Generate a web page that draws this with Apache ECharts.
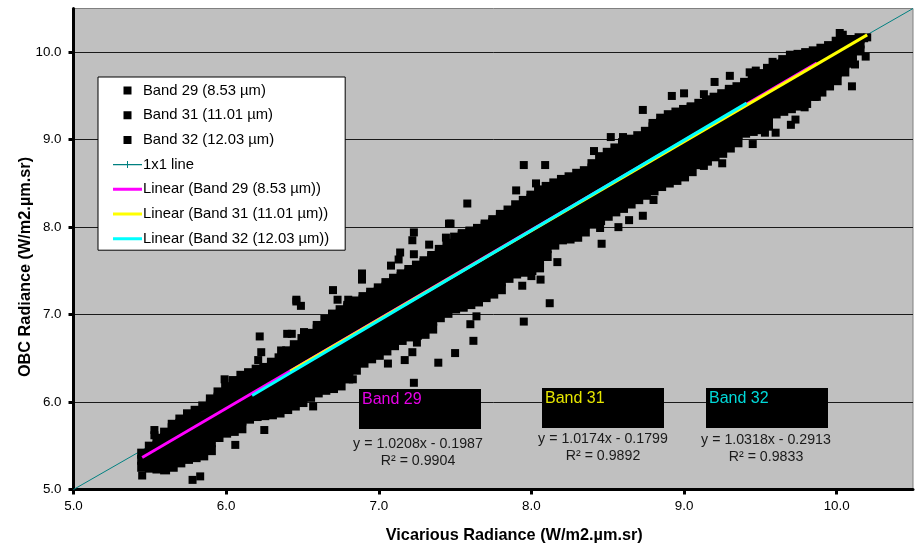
<!DOCTYPE html>
<html>
<head>
<meta charset="utf-8">
<script src="https://cdn.jsdelivr.net/npm/echarts@6/dist/echarts.min.js"></script>
<style>
	html, body { margin: 0; padding: 0; background: #fff; }
	#chart { width: 919px; height: 545px; }
</style>
</head>
<body>
<div id="chart"></div>
<script>
// tick labels
var xTicks = [5, 6, 7, 8, 9, 10];
var yTicks = [5, 6, 7, 8, 9, 10];

var band29Name = 'Band 29 (8.53 µm)';
var band31Name = 'Band 31 (11.01 µm)';
var band32Name = 'Band 32 (12.03 µm)';

// each row: vicarious radiance, then the OBC radiances read at that x
var band29Cols = [
	[5.45, 5.26,5.34,5.41],
	[5.50, 5.25,5.33,5.41,5.49],
	[5.55, 5.24,5.32,5.41,5.50,5.58],
	[5.60, 5.23,5.32,5.41,5.50,5.59,5.65],
	[5.65, 5.26,5.35,5.44,5.53,5.62,5.70,5.74],
	[5.70, 5.31,5.40,5.49,5.58,5.67,5.75,5.80],
	[5.75, 5.35,5.44,5.53,5.62,5.71,5.79,5.86],
	[5.80, 5.37,5.46,5.55,5.64,5.73,5.82,5.90],
	[5.85, 5.39,5.48,5.57,5.66,5.75,5.84,5.95],
	[5.90, 5.45,5.54,5.63,5.72,5.81,5.90,5.97,6.03],
	[5.95, 5.60,5.69,5.78,5.87,5.96,6.05,6.11],
	[6.00, 5.65,5.74,5.83,5.92,6.01,6.10,6.17],
	[6.05, 5.67,5.76,5.85,5.94,6.03,6.12,6.21,6.24],
	[6.10, 5.70,5.79,5.88,5.97,6.06,6.15,6.24,6.30],
	[6.15, 5.81,5.90,5.99,6.08,6.17,6.26,6.33],
	[6.20, 5.84,5.93,6.02,6.11,6.20,6.29,6.37],
	[6.25, 5.85,5.94,6.03,6.12,6.21,6.30,6.39],
	[6.30, 5.86,5.95,6.04,6.13,6.22,6.31,6.40,6.45],
	[6.35, 5.88,5.97,6.06,6.15,6.24,6.33,6.42,6.50],
	[6.40, 5.92,6.01,6.10,6.19,6.28,6.37,6.46,6.55,6.58],
	[6.45, 5.96,6.05,6.14,6.23,6.32,6.41,6.50,6.59,6.65],
	[6.50, 6.00,6.09,6.18,6.27,6.36,6.45,6.54,6.63,6.72],
	[6.55, 6.06,6.15,6.24,6.33,6.42,6.51,6.60,6.69,6.78],
	[6.60, 6.11,6.20,6.29,6.38,6.47,6.56,6.65,6.74,6.83,6.87],
	[6.65, 6.14,6.23,6.32,6.41,6.50,6.59,6.68,6.77,6.86,6.94],
	[6.70, 6.16,6.25,6.34,6.43,6.52,6.61,6.70,6.79,6.88,6.97,7.00],
	[6.75, 6.19,6.28,6.37,6.46,6.55,6.64,6.73,6.82,6.91,7.00,7.05],
	[6.80, 6.27,6.36,6.45,6.54,6.63,6.72,6.81,6.90,6.99,7.08,7.10],
	[6.85, 6.37,6.46,6.55,6.64,6.73,6.82,6.91,7.00,7.09,7.15],
	[6.90, 6.45,6.54,6.63,6.72,6.81,6.90,6.99,7.08,7.17,7.20],
	[6.95, 6.50,6.59,6.68,6.77,6.86,6.95,7.04,7.13,7.22,7.25]
];
var band32Cols = [
	[7.00, 6.54,6.63,6.72,6.81,6.90,6.99,7.08,7.17,7.26,7.30],
	[7.05, 6.59,6.68,6.77,6.86,6.95,7.04,7.13,7.22,7.31,7.36],
	[7.10, 6.65,6.74,6.83,6.92,7.01,7.10,7.19,7.28,7.37,7.41],
	[7.15, 6.71,6.80,6.89,6.98,7.07,7.16,7.25,7.34,7.43,7.46],
	[7.20, 6.75,6.84,6.93,7.02,7.11,7.20,7.29,7.38,7.47,7.51],
	[7.25, 6.77,6.86,6.95,7.04,7.13,7.22,7.31,7.40,7.49,7.56],
	[7.30, 6.78,6.87,6.96,7.05,7.14,7.23,7.32,7.41,7.50,7.59,7.61],
	[7.35, 6.84,6.93,7.02,7.11,7.20,7.29,7.38,7.47,7.56,7.65,7.67],
	[7.40, 6.97,7.06,7.15,7.24,7.33,7.42,7.51,7.60,7.69,7.74],
	[7.45, 7.02,7.11,7.20,7.29,7.38,7.47,7.56,7.65,7.74,7.81],
	[7.50, 7.07,7.16,7.25,7.34,7.43,7.52,7.61,7.70,7.79,7.88],
	[7.55, 7.09,7.18,7.27,7.36,7.45,7.54,7.63,7.72,7.81,7.90,7.92],
	[7.60, 7.12,7.21,7.30,7.39,7.48,7.57,7.66,7.75,7.84,7.93,7.95],
	[7.65, 7.15,7.24,7.33,7.42,7.51,7.60,7.69,7.78,7.87,7.96,7.98],
	[7.70, 7.20,7.29,7.38,7.47,7.56,7.65,7.74,7.83,7.92,8.01,8.03],
	[7.75, 7.24,7.33,7.42,7.51,7.60,7.69,7.78,7.87,7.96,8.05,8.08],
	[7.80, 7.29,7.38,7.47,7.56,7.65,7.74,7.83,7.92,8.01,8.10,8.14],
	[7.85, 7.42,7.51,7.60,7.69,7.78,7.87,7.96,8.05,8.14,8.19],
	[7.90, 7.47,7.56,7.65,7.74,7.83,7.92,8.01,8.10,8.19,8.25],
	[7.95, 7.49,7.58,7.67,7.76,7.85,7.94,8.03,8.12,8.21,8.30],
	[8.00, 7.51,7.60,7.69,7.78,7.87,7.96,8.05,8.14,8.23,8.32,8.36],
	[8.05, 7.54,7.63,7.72,7.81,7.90,7.99,8.08,8.17,8.26,8.35,8.42],
	[8.10, 7.67,7.76,7.85,7.94,8.03,8.12,8.21,8.30,8.39,8.46]
];
var band31Cols = [
	[8.15, 7.80,7.89,7.98,8.07,8.16,8.25,8.34,8.43,8.50],
	[8.20, 7.86,7.95,8.04,8.13,8.22,8.31,8.40,8.49,8.54],
	[8.25, 7.87,7.96,8.05,8.14,8.23,8.32,8.41,8.50,8.57],
	[8.30, 7.89,7.98,8.07,8.16,8.25,8.34,8.43,8.52,8.61],
	[8.35, 7.95,8.04,8.13,8.22,8.31,8.40,8.49,8.58,8.64],
	[8.40, 8.04,8.13,8.22,8.31,8.40,8.49,8.58,8.67,8.72],
	[8.45, 8.08,8.17,8.26,8.35,8.44,8.53,8.62,8.71,8.80],
	[8.50, 8.13,8.22,8.31,8.40,8.49,8.58,8.67,8.76,8.85],
	[8.55, 8.18,8.27,8.36,8.45,8.54,8.63,8.72,8.81,8.90],
	[8.60, 8.22,8.31,8.40,8.49,8.58,8.67,8.76,8.85,8.94,8.96],
	[8.65, 8.27,8.36,8.45,8.54,8.63,8.72,8.81,8.90,8.99,9.00],
	[8.70, 8.32,8.41,8.50,8.59,8.68,8.77,8.86,8.95,9.04],
	[8.75, 8.37,8.46,8.55,8.64,8.73,8.82,8.91,9.00,9.09],
	[8.80, 8.42,8.51,8.60,8.69,8.78,8.87,8.96,9.05,9.14,9.18],
	[8.85, 8.47,8.56,8.65,8.74,8.83,8.92,9.01,9.10,9.19,9.24],
	[8.90, 8.51,8.60,8.69,8.78,8.87,8.96,9.05,9.14,9.23,9.28],
	[8.95, 8.54,8.63,8.72,8.81,8.90,8.99,9.08,9.17,9.26,9.31],
	[9.00, 8.58,8.67,8.76,8.85,8.94,9.03,9.12,9.21,9.30,9.34],
	[9.05, 8.64,8.73,8.82,8.91,9.00,9.09,9.18,9.27,9.36,9.37],
	[9.10, 8.72,8.81,8.90,8.99,9.08,9.17,9.26,9.35,9.41],
	[9.15, 8.76,8.85,8.94,9.03,9.12,9.21,9.30,9.39,9.45],
	[9.20, 8.81,8.90,8.99,9.08,9.17,9.26,9.35,9.44,9.48],
	[9.25, 8.85,8.94,9.03,9.12,9.21,9.30,9.39,9.48,9.52],
	[9.30, 8.91,9.00,9.09,9.18,9.27,9.36,9.45,9.54,9.57],
	[9.35, 8.97,9.06,9.15,9.24,9.33,9.42,9.51,9.60],
	[9.40, 9.08,9.17,9.26,9.35,9.44,9.53,9.62,9.65],
	[9.45, 9.10,9.19,9.28,9.37,9.46,9.55,9.64,9.70],
	[9.50, 9.12,9.21,9.30,9.39,9.48,9.57,9.66,9.75],
	[9.55, 9.16,9.25,9.34,9.43,9.52,9.61,9.70,9.79,9.81],
	[9.60, 9.30,9.39,9.48,9.57,9.66,9.75,9.84,9.86],
	[9.65, 9.33,9.42,9.51,9.60,9.69,9.78,9.87,9.91],
	[9.70, 9.36,9.45,9.54,9.63,9.72,9.81,9.90,9.96],
	[9.75, 9.39,9.48,9.57,9.66,9.75,9.84,9.93,9.97],
	[9.80, 9.42,9.51,9.60,9.69,9.78,9.87,9.96,9.99],
	[9.85, 9.50,9.59,9.68,9.77,9.86,9.95,10.01],
	[9.90, 9.55,9.64,9.73,9.82,9.91,10.00,10.04],
	[9.95, 9.62,9.71,9.80,9.89,9.98,10.07],
	[10.00, 9.68,9.77,9.86,9.95,10.04,10.12],
	[10.05, 9.78,9.87,9.96,10.05,10.14],
	[10.10, 9.88,9.97,10.06,10.14],
	[10.15, 10.02,10.10,10.16]
];

// stray points outside the main cloud
var band29Strays = [
	[5.45,5.16],[5.78,5.11],[5.83,5.15],[6.06,5.51],[6.25,5.68],[5.53,5.68],[5.53,5.62],
	[6.22,6.75],[6.57,5.95],[6.49,7.10],[6.46,7.15],[6.23,6.57],[6.21,6.48],[6.36,6.59],
	[6.40,6.78],[6.43,6.78],[6.51,6.80],[5.99,6.26],[6.46,7.17],[6.70,7.28],[6.73,7.17],
	[6.80,7.17],[6.89,7.47],[6.89,7.40],[6.83,6.26]
];
var band32Strays = [
	[7.23,7.94],[7.22,7.85],[7.33,7.80],[7.46,8.04],[7.14,7.71],[7.13,7.63],[7.08,7.56],
	[7.23,7.69],[7.44,7.88],[7.23,6.22],[7.06,6.44],[7.17,6.48],[7.22,6.57],[7.39,6.45],
	[7.50,6.56],[7.25,6.68],[7.62,6.70],[7.60,6.89],[7.64,6.98],[7.95,8.71],[8.09,8.71],
	[7.58,8.27],[7.47,8.04],[7.90,8.42],[8.03,8.50],[8.12,7.13],[7.95,6.92],[7.94,7.33],
	[8.00,7.44],[8.06,7.40],[8.17,7.60]
];
var band31Strays = [
	[8.41,8.87],[8.52,9.03],[8.60,9.03],[8.46,7.81],[8.45,7.99],[8.57,8.00],[8.64,8.08],
	[8.73,8.13],[8.73,9.34],[8.92,9.50],[9.00,9.53],[9.13,9.52],[9.20,9.66],[9.30,9.73],
	[9.43,9.77],[9.47,9.79],[9.58,9.89],[8.80,8.31],[9.25,8.73],[9.45,8.95],[9.13,8.70],
	[9.60,9.08],[9.70,9.17],[9.73,9.23],[10.10,9.61],[10.00,9.71],[10.02,10.22],[10.04,10.20],
	[10.20,10.17],[10.18,10.16],[10.19,9.95],[10.12,9.86],[10.00,10.11],[10.06,10.11],
	[9.87,9.49],[9.79,9.37],[9.53,9.08]
];

// fitted lines, end points
var oneToOne = [[5, 5], [10.5, 10.5]];
var band29Fit = [[5.45, 5.365], [9.87, 9.877]];
var band31Fit = [[6.42, 6.352], [10.2, 10.198]];
var band32Fit = [[6.17, 6.075], [9.41, 9.418]];

var boxLabels = ['Band 29', 'Band 31', 'Band 32'];
var equations = ['y = 1.0208x - 0.1987', 'y = 1.0174x - 0.1799', 'y = 1.0318x - 0.2913'];
var rSquared = ['R² = 0.9904', 'R² = 0.9892', 'R² = 0.9833'];

function toPoints(cols, strays) {
	var pts = [];
	cols.forEach(function (row) {
		for (var i = 1; i < row.length; i++) {
			pts.push([row[0], row[i]]);
		}
	});
	return pts.concat(strays);
}

var font = '"Liberation Sans", Arial, sans-serif';

function scatterSeries(name, cols, strays) {
	var data = toPoints(cols, strays);
	var strayStart = data.length - strays.length;
	return {
		name: name,
		type: 'scatter',
		symbol: 'rect',
		// cloud squares a touch larger so they close up
		symbolSize: function (val, params) {
			return params.dataIndex >= strayStart ? 8 : 10;
		},
		itemStyle: { color: '#000', opacity: 1 },
		z: 3,
		silent: true,
		data: data
	};
}

function fitSeries(name, data, color) {
	return {
		name: name,
		type: 'line',
		showSymbol: false,
		symbol: 'none',
		lineStyle: { color: color, width: 3, cap: 'butt' },
		itemStyle: { color: color },
		z: 5,
		silent: true,
		data: data
	};
}

// black boxes and equation text, placed like the text boxes in the original
var boxLayout = [
	{ x: 359, y: 389, textX: 362, textY: 400, eqX: 418, eqY: 443, rY: 460, color: '#e600e6' },
	{ x: 542, y: 388, textX: 545, textY: 399, eqX: 603, eqY: 438, rY: 455, color: '#e6e600' },
	{ x: 706, y: 388, textX: 709, textY: 399, eqX: 766, eqY: 439, rY: 456, color: '#00d9d9' }
];
var graphics = [];
boxLayout.forEach(function (b, i) {
	graphics.push({
		type: 'rect', z: 100,
		shape: { x: b.x, y: b.y, width: 122, height: 40 },
		style: { fill: '#000' }
	});
	graphics.push({
		type: 'text', z: 101, x: b.textX, y: b.textY,
		style: { text: boxLabels[i], fill: b.color, font: '16px ' + font, textVerticalAlign: 'middle' }
	});
	graphics.push({
		type: 'text', z: 101, x: b.eqX, y: b.eqY + 1,
		style: { text: equations[i], fill: '#1a1a1a', font: '14.2px ' + font, textAlign: 'center', textVerticalAlign: 'middle' }
	});
	graphics.push({
		type: 'text', z: 101, x: b.eqX, y: b.rY + 1,
		style: { text: rSquared[i], fill: '#1a1a1a', font: '14.2px ' + font, textAlign: 'center', textVerticalAlign: 'middle' }
	});
});

function axisOption(ticks, margin, extra) {
	var base = {
		type: 'value',
		min: 5,
		max: 10.5,
		nameLocation: 'middle',
		nameMoveOverlap: false,
		axisLine: { show: true, onZero: false, lineStyle: { color: '#000', width: 3 } },
		axisTick: { show: true, customValues: ticks, length: 5, lineStyle: { color: '#000', width: 3 } },
		axisLabel: {
			customValues: ticks,
			color: '#000',
			fontFamily: font,
			fontSize: 13.4,
			margin: margin,
			formatter: function (v) { return v.toFixed(1); }
		}
	};
	return Object.assign(base, extra);
}

var option = {
	animation: false,
	backgroundColor: '#fff',
	textStyle: { fontFamily: font },
	grid: {
		left: 73.5, right: 6, top: 8.5, bottom: 55.5,
		outerBoundsMode: 'none',
		show: true,
		backgroundColor: '#c0c0c0',
		borderColor: '#808080',
		borderWidth: 1
	},
	legend: {
		orient: 'vertical',
		left: 98,
		top: 77,
		padding: [6, 16, 4, 15],
		itemWidth: 29,
		itemHeight: 8,
		itemGap: 9.7,
		backgroundColor: '#fff',
		borderColor: '#000',
		borderWidth: 1,
		borderRadius: 0,
		textStyle: { color: '#000', fontFamily: font, fontSize: 14.8, padding: [0, 0, 0, -4] },
		data: [
			{ name: band29Name, icon: 'path://M0 0H0V0Z M10.5 0H18.5V8H10.5Z M29 8H29V8Z' },
			{ name: band31Name, icon: 'path://M0 0H0V0Z M10.5 0H18.5V8H10.5Z M29 8H29V8Z' },
			{ name: band32Name, icon: 'path://M0 0H0V0Z M10.5 0H18.5V8H10.5Z M29 8H29V8Z' },
			{ name: '1x1 line', icon: 'path://M0 3.4H29V4.6H0Z M14 0.5H15V7.5H14Z M0 0H0V0Z M29 8H29V8Z', itemStyle: { color: '#008080' } },
			{ name: 'Linear (Band 29 (8.53 µm))', icon: 'path://M0 2.5H29V5.5H0Z M0 0H0V0Z M29 8H29V8Z', itemStyle: { color: '#ff00ff' } },
			{ name: 'Linear (Band 31 (11.01 µm))', icon: 'path://M0 2.5H29V5.5H0Z M0 0H0V0Z M29 8H29V8Z', itemStyle: { color: '#ffff00' } },
			{ name: 'Linear (Band 32 (12.03 µm))', icon: 'path://M0 2.5H29V5.5H0Z M0 0H0V0Z M29 8H29V8Z', itemStyle: { color: '#00ffff' } }
		]
	},
	xAxis: axisOption(xTicks, 10, {
		name: 'Vicarious Radiance (W/m2.µm.sr)',
		nameGap: 38,
		nameTextStyle: { color: '#000', fontFamily: font, fontSize: 16.3, fontWeight: 'bold', padding: [0, 0, 0, 42] },
		splitLine: { show: false }
	}),
	yAxis: axisOption(yTicks, 12, {
		name: 'OBC Radiance (W/m2.µm.sr)',
		nameGap: 40,
		nameTextStyle: { color: '#000', fontFamily: font, fontSize: 16.3, fontWeight: 'bold', padding: [0, 36, 0, 0] },
		splitLine: { show: true, lineStyle: { color: '#1a1a1a', width: 1 } }
	}),
	series: [
		scatterSeries(band29Name, band29Cols, band29Strays),
		scatterSeries(band31Name, band31Cols, band31Strays),
		scatterSeries(band32Name, band32Cols, band32Strays),
		{
			name: '1x1 line',
			type: 'line',
			showSymbol: false,
			symbol: 'none',
			lineStyle: { color: '#008080', width: 1 },
			itemStyle: { color: '#008080' },
			z: 2,
			silent: true,
			data: oneToOne
		},
		fitSeries('Linear (Band 29 (8.53 µm))', band29Fit, '#ff00ff'),
		fitSeries('Linear (Band 31 (11.01 µm))', band31Fit, '#ffff00'),
		fitSeries('Linear (Band 32 (12.03 µm))', band32Fit, '#00ffff')
	],
	graphic: { elements: graphics }
};

var myChart = echarts.init(document.getElementById('chart'));
myChart.setOption(option);
</script>
</body>
</html>
